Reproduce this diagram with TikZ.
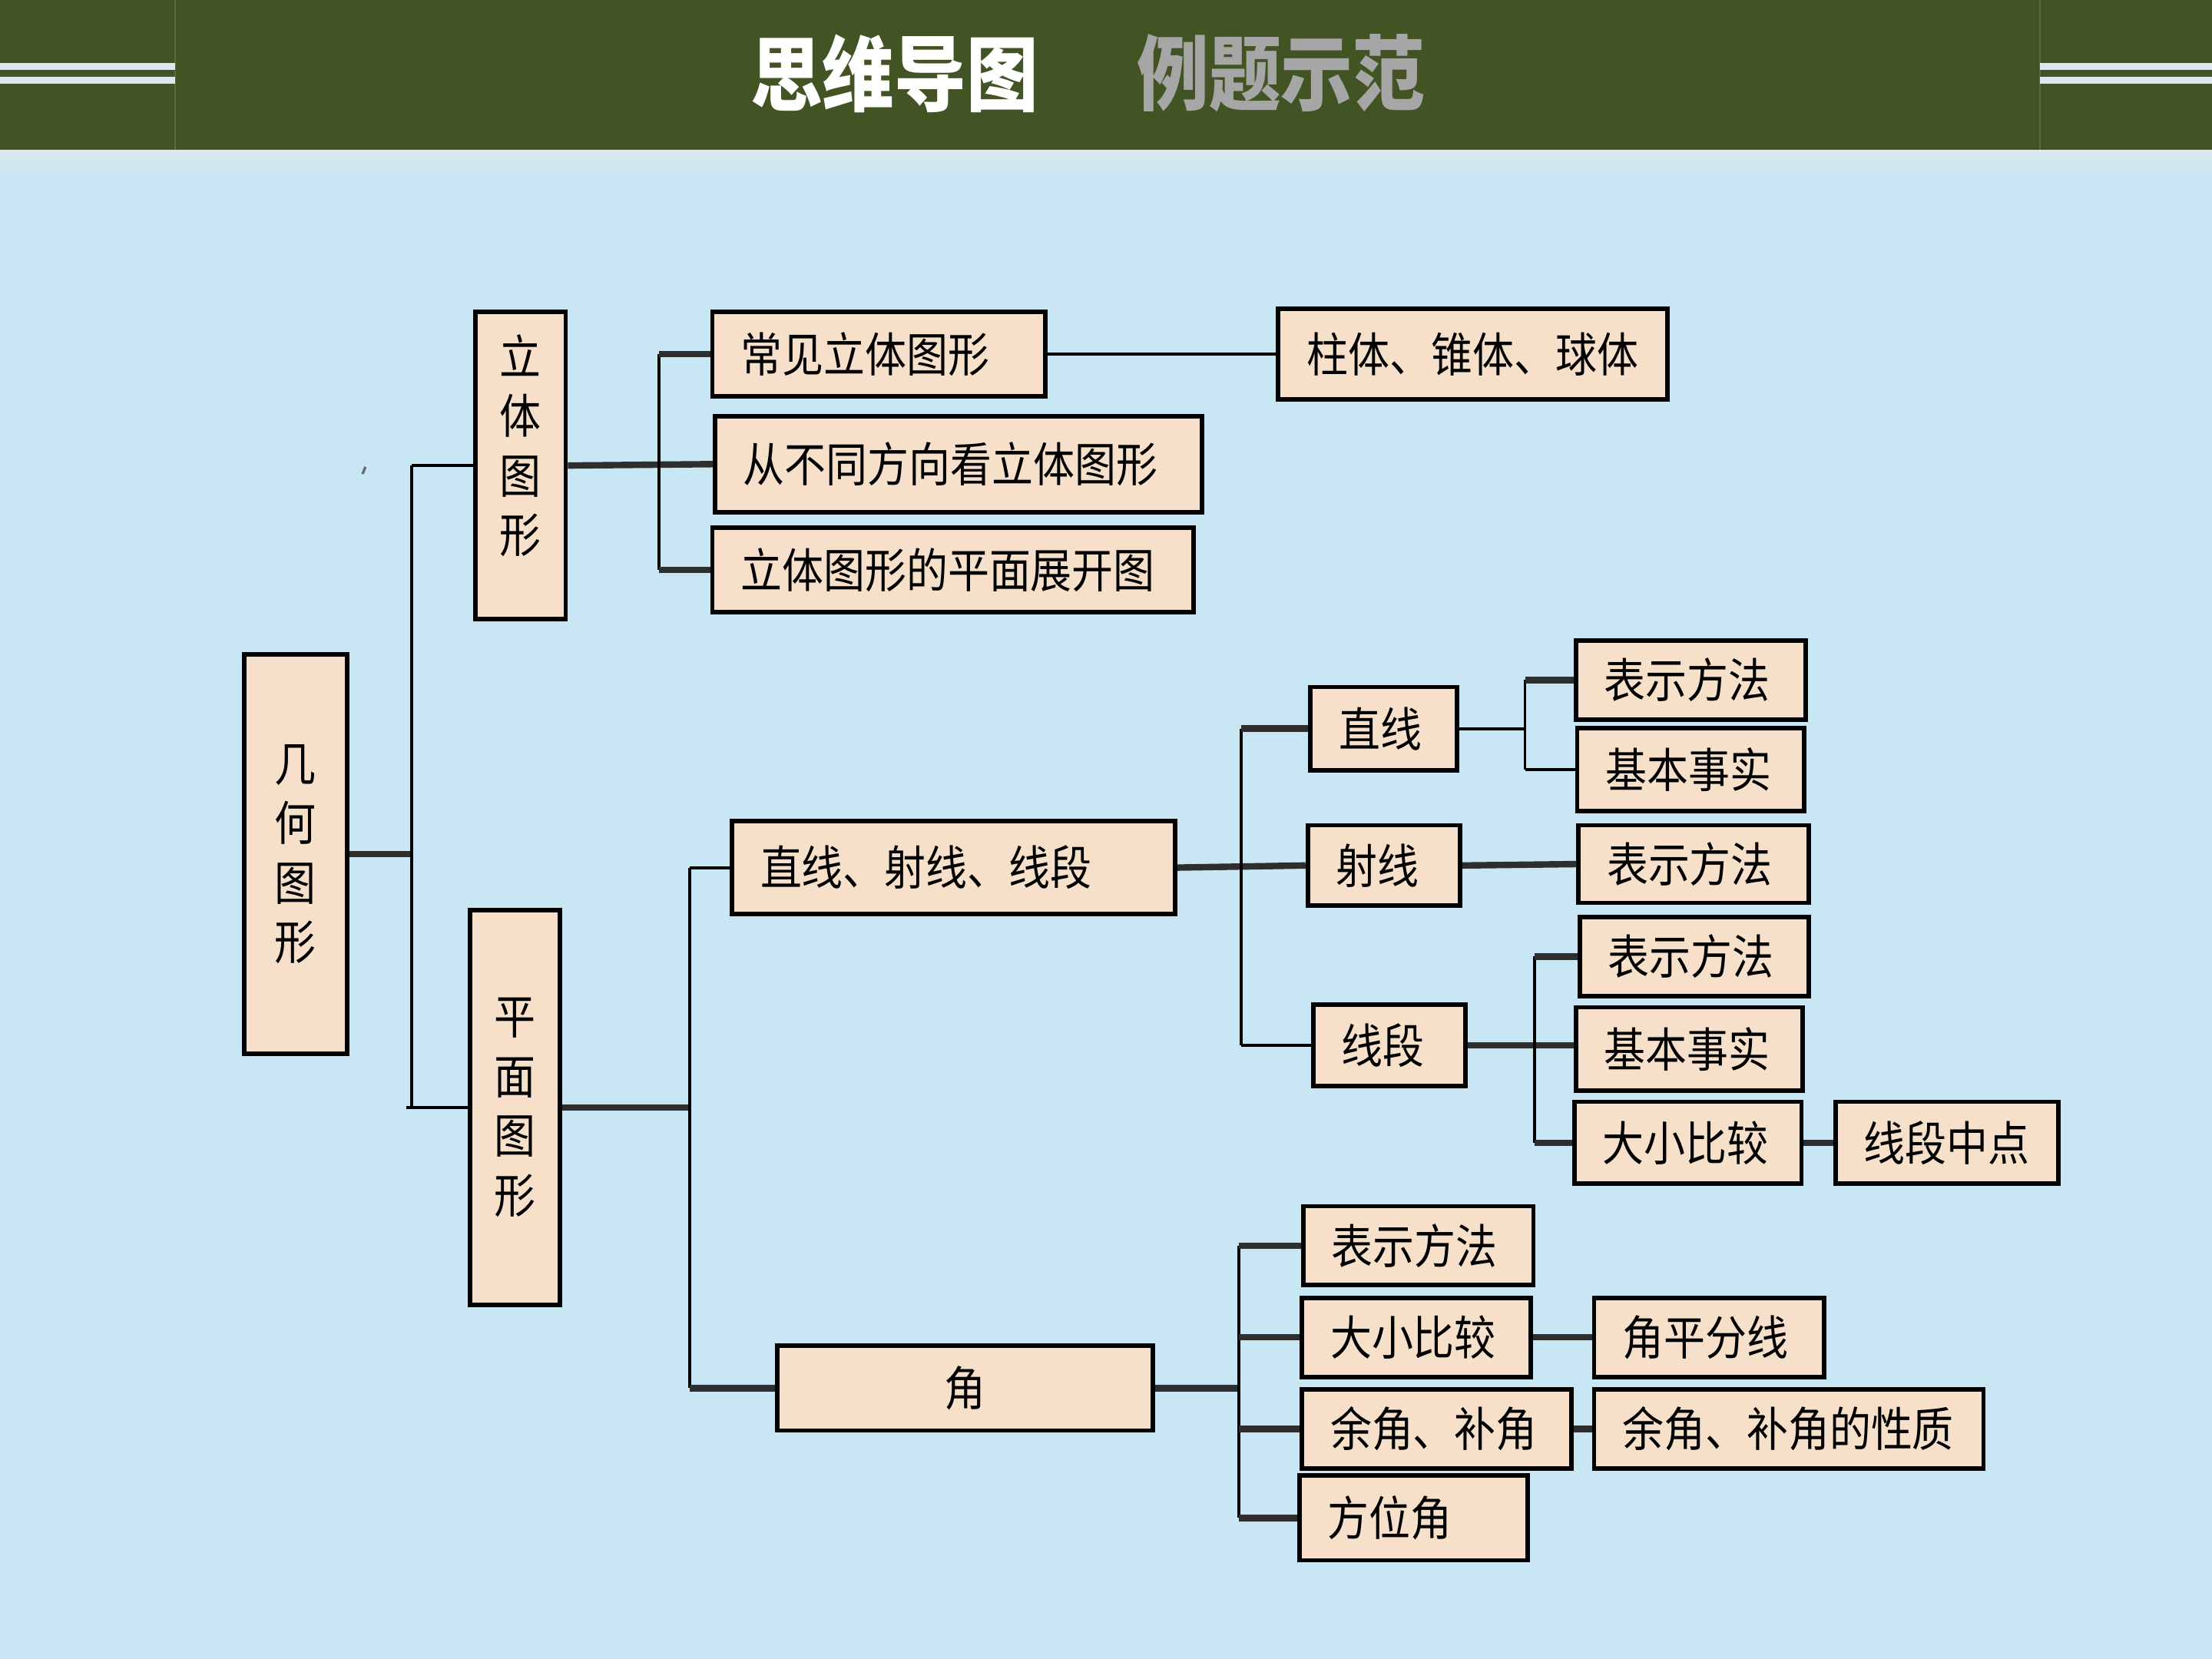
\documentclass[tikz,border=0pt]{standalone}
\usepackage{fontspec}
\newfontfamily\cjk[FakeStretch=0.88]{Noto Sans CJK SC}
\definecolor{bgblue}{HTML}{C8E6F3}
\definecolor{hdr}{HTML}{435424}
\definecolor{hdrline}{HTML}{5A6A3E}
\definecolor{strip}{HTML}{DCE8EC}
\definecolor{peach}{HTML}{F6E0CA}
\definecolor{ttlgray}{HTML}{A6A6A6}
\tikzset{
  bx/.style={draw=black, line width=1.8pt, fill=peach, inner xsep=0.4cm, inner ysep=0pt,
    font=\cjk\fontsize{19}{24}\selectfont, text=black},
  vbx/.style={draw=black, line width=1.8pt, fill=peach, inner sep=0pt, align=center,
    font=\cjk\fontsize{19}{24}\selectfont, text=black},
  vtext/.style={inner sep=0pt, align=center, font=\cjk\fontsize{19}{24}\selectfont, text=black},
  thin/.style={draw=black, line width=1.2pt},
  thick/.style={draw=black!82, line width=2.6pt},
}
\newcommand\bx[7][left]{\node[bx, align=#1, text width={(#5-#3-40)*0.02cm}, minimum height={(#6-#4)*0.02cm}] (#2) at ({(#3+#5)/2},{(#4+#6)/2}) {#7};}
\newcommand\vb[6]{\node[vbx, minimum width={(#4-#2)*0.02cm}, minimum height={(#5-#3)*0.02cm}] (#1) at ({(#2+#4)/2},{(#3+#5)/2}) {#6};}
\begin{document}
\begin{tikzpicture}[x=0.02cm,y=-0.02cm]
\useasboundingbox (0,0) rectangle (1568,1176);
% background
\fill[bgblue] (0,0) rectangle (1568,1176);
\shade[top color=strip, bottom color=bgblue] (0,106) rectangle (1568,124);
\fill[hdr] (0,0) rectangle (1568,106);
\draw[hdrline, line width=0.6pt] (124,0) -- (124,106) (1446,0) -- (1446,106);
\draw[strip, line width=2.8pt] (0,47) -- (124,47) (0,57) -- (124,57)
  (1446,47) -- (1568,47) (1446,57) -- (1568,57);
\node[text=white, font=\cjk\bfseries\fontsize{33}{36}\selectfont, inner sep=0pt] (t1) at (634,52) {思维导图};
\node[text=ttlgray, font=\cjk\bfseries\fontsize{33}{36}\selectfont, inner sep=0pt] (t2) at (908,52) {例题示范};
% stray mark
\draw[black!60, line width=1pt] (257,336) -- (259,331);

% boxes
\vb{geo}{173}{464}{246}{747}{几\\何\\图\\形}
\vb{lt}{337}{221}{401}{439}{}
\node[vtext] (ltt) at (369,316) {立\\体\\图\\形};
\vb{pm}{333}{645}{397}{925}{平\\面\\图\\形}

\bx{cj}{505}{221}{741}{281}{常见立体图形}
\bx[center]{zt}{906}{219}{1182}{283}{柱体、锥体、球体}
\bx{cx}{507}{295}{852}{363}{从不同方向看立体图形}
\bx{zk}{505}{374}{846}{434}{立体图形的平面展开图}

\bx{zs}{519}{582}{833}{648}{直线、射线、线段}
\bx[center]{jiao}{551}{954}{817}{1014}{角}

\bx{zx}{929}{487}{1033}{546}{直线}
\bx{ray}{927}{585}{1035}{642}{射线}
\bx{xd}{931}{712}{1039}{770}{线段}

\bx{b1}{1117}{454}{1280}{510}{表示方法}
\bx{b2}{1118}{516}{1279}{575}{基本事实}
\bx{b3}{1119}{585}{1282}{640}{表示方法}
\bx{b4}{1120}{650}{1282}{706}{表示方法}
\bx{b5}{1117}{714}{1278}{773}{基本事实}
\bx{b6}{1116}{781}{1277}{839}{大小比较}
\bx{b7}{1301}{781}{1459}{839}{线段中点}

\bx{a1}{924}{855}{1087}{911}{表示方法}
\bx{a2}{923}{920}{1085}{976}{大小比较}
\bx{a5}{1130}{920}{1293}{976}{角平分线}
\bx{a3}{923}{985}{1114}{1041}{余角、补角}
\bx{a6}{1130}{985}{1406}{1041}{余角、补角的性质}
\bx{a4}{921}{1046}{1083}{1106}{方位角}

% trunk coordinates
\coordinate (A) at (292,0);
\coordinate (B) at (467,0);
\coordinate (C) at (489,0);
\coordinate (D) at (880,0);
\coordinate (E) at (1081,0);
\coordinate (F) at (1088,0);
\coordinate (G) at (878,0);

% connectors
\draw[thick] (geo.east) -- (geo.east -| A);
\draw[thin] (A |- lt.west) -- (A |- pm.west);
\draw[thin] (A |- lt.west) -- (lt.west);
\draw[thin] ([xshift=-0.08cm]A |- pm.west) -- (pm.west);

\draw[thick] (lt.east) -- (cx.west);
\draw[thin] (B |- cj.west) -- (B |- zk.west);
\draw[thick] (B |- cj.west) -- (cj.west);
\draw[thick] (B |- zk.west) -- (zk.west);
\draw[thin] (cj.east) -- (zt.west);

\draw[thick] (pm.east) -- (pm.east -| C);
\draw[thin] (C |- zs.west) -- (C |- jiao.west);
\draw[thin] (C |- zs.west) -- (zs.west);
\draw[thick] (C |- jiao.west) -- (jiao.west);

\draw[thick] (zs.east) -- (ray.west);
\draw[thin] (D |- zx.west) -- (D |- xd.west);
\draw[thick] (D |- zx.west) -- (zx.west);
\draw[thin] (D |- xd.west) -- (xd.west);

\draw[thin] (zx.east) -- (zx.east -| E);
\draw[thin] (E |- b1.west) -- (E |- b2.west);
\draw[thick] (E |- b1.west) -- (b1.west);
\draw[thin] (E |- b2.west) -- (b2.west);

\draw[thick] (ray.east) -- (b3.west);

\draw[thick] (xd.east) -- (xd.east -| b5.west);
\draw[thin] (F |- b4.west) -- (F |- b6.west);
\draw[thick] (F |- b4.west) -- (b4.west);
\draw[thick] (F |- b6.west) -- (b6.west);
\draw[thick] (b6.east) -- (b7.west);

\draw[thick] (jiao.east) -- (jiao.east -| G);
\draw[thin] (G |- a1.west) -- (G |- a4.west);
\draw[thick] (G |- a1.west) -- (a1.west);
\draw[thick] (G |- a2.west) -- (a2.west);
\draw[thick] (G |- a3.west) -- (a3.west);
\draw[thick] (G |- a4.west) -- (a4.west);
\draw[thick] (a2.east) -- (a5.west);
\draw[thick] (a3.east) -- (a6.west);
\end{tikzpicture}
\end{document}
